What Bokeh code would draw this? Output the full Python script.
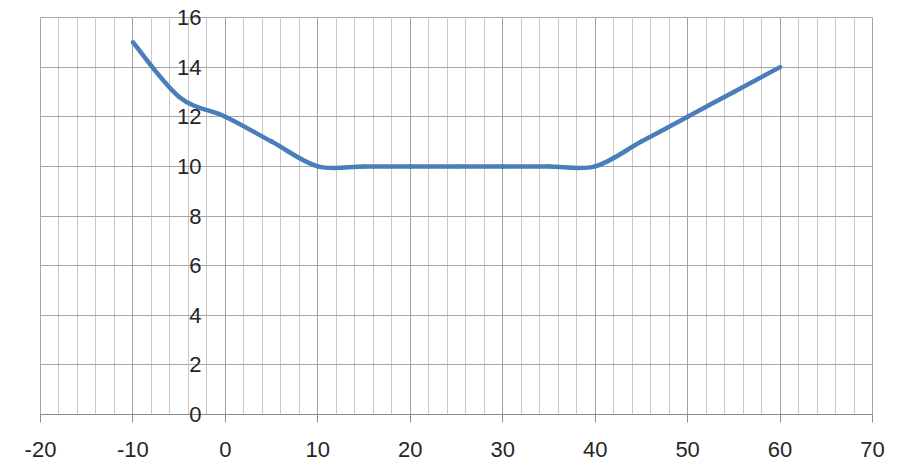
from bokeh.plotting import figure
from bokeh.models import Range1d, SingleIntervalTicker, ColumnDataSource, PrintfTickFormatter
from bokeh.embed import file_html
from bokeh.resources import INLINE

# Data points
x_vals = [-10, -5, 0, 5, 10, 15, 20, 25, 30, 35, 40, 45, 50, 55, 60]
y_vals = [15, 12.8, 12, 11, 10, 10, 10, 10, 10, 10, 10, 11, 12, 13, 14]

x_ticks_interval = 10
y_ticks_interval = 2

# Excel-like smoothed line: Bezier segments with Catmull-Rom style control points
n = len(x_vals)
x0, y0, x1, y1, cx0, cy0, cx1, cy1 = [], [], [], [], [], [], [], []
for i in range(n - 1):
    pxm = x_vals[i - 1] if i > 0 else x_vals[i]
    pym = y_vals[i - 1] if i > 0 else y_vals[i]
    pxp = x_vals[i + 2] if i + 2 < n else x_vals[i + 1]
    pyp = y_vals[i + 2] if i + 2 < n else y_vals[i + 1]
    x0.append(x_vals[i]); y0.append(y_vals[i])
    x1.append(x_vals[i + 1]); y1.append(y_vals[i + 1])
    cx0.append(x_vals[i] + (x_vals[i + 1] - pxm) / 6.0)
    cy0.append(y_vals[i] + (y_vals[i + 1] - pym) / 6.0)
    cx1.append(x_vals[i + 1] - (pxp - x_vals[i]) / 6.0)
    cy1.append(y_vals[i + 1] - (pyp - y_vals[i]) / 6.0)

src = ColumnDataSource(dict(x0=x0, y0=y0, x1=x1, y1=y1,
                            cx0=cx0, cy0=cy0, cx1=cx1, cy1=cy1))

p = figure(width=891, height=473, x_range=Range1d(-20, 70), y_range=Range1d(0, 16),
           output_backend="svg", toolbar_location=None,
           min_border_left=40, min_border_right=19, min_border_top=17, min_border_bottom=59)

p.background_fill_color = "white"
p.border_fill_color = "white"
p.outline_line_color = "#a6a6a6"

# X axis
p.xaxis.ticker = SingleIntervalTicker(interval=x_ticks_interval, num_minor_ticks=5)
p.xaxis.formatter = PrintfTickFormatter(format="%d")
p.xaxis.axis_line_color = "#8c8c8c"
p.xaxis.major_tick_line_color = "#8c8c8c"
p.xaxis.major_tick_out = 8
p.xaxis.major_tick_in = 0
p.xaxis.minor_tick_line_color = None
p.xaxis.major_label_text_font = "Liberation Sans"
p.xaxis.major_label_text_font_size = "22px"
p.xaxis.major_label_text_color = "#262626"
p.xaxis.major_label_standoff = 19

# Y axis labels shown just left of x = 0 (inside the plot area)
p.yaxis.ticker = SingleIntervalTicker(interval=y_ticks_interval, num_minor_ticks=0)
p.yaxis.formatter = PrintfTickFormatter(format="%d")
p.yaxis.axis_line_color = None
p.yaxis.major_tick_line_color = None
p.yaxis.major_tick_out = 0
p.yaxis.major_tick_in = 0
p.yaxis.minor_tick_line_color = None
p.yaxis.major_label_text_font = "Liberation Sans"
p.yaxis.major_label_text_font_size = "22px"
p.yaxis.major_label_text_color = "#262626"
p.yaxis.major_label_standoff = -161

# Grids
p.xgrid.ticker = SingleIntervalTicker(interval=x_ticks_interval, num_minor_ticks=5)
p.xgrid.grid_line_color = "#a0a0a0"
p.xgrid.grid_line_width = 1
p.xgrid.minor_grid_line_color = "#c8c8c8"
p.xgrid.minor_grid_line_width = 1
p.ygrid.ticker = SingleIntervalTicker(interval=y_ticks_interval, num_minor_ticks=0)
p.ygrid.grid_line_color = "#a6a6a6"
p.ygrid.grid_line_width = 1

p.bezier(x0="x0", y0="y0", x1="x1", y1="y1", cx0="cx0", cy0="cy0", cx1="cx1", cy1="cy1",
         source=src, line_color="#4a7ebb", line_width=4.5, line_cap="round")

open("out.html", "w").write(file_html(p, INLINE))
